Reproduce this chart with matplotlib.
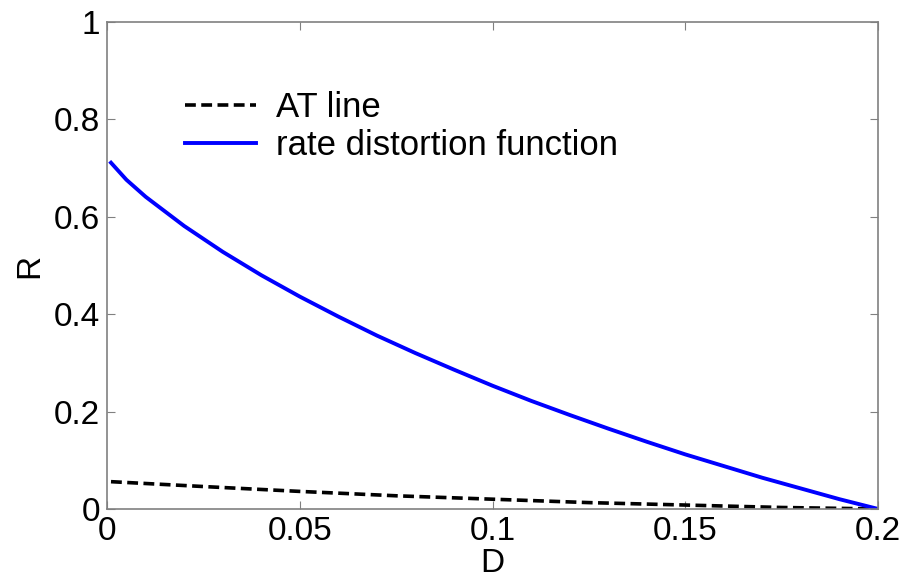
import matplotlib
matplotlib.use("Agg")
import matplotlib.pyplot as plt

# Data
D_rd = [0.001, 0.005, 0.01, 0.02, 0.03, 0.04, 0.05, 0.06, 0.07, 0.08, 0.09, 0.10,
        0.11, 0.12, 0.13, 0.14, 0.15, 0.16, 0.17, 0.18, 0.19, 0.20]
R_rd = [0.711, 0.676, 0.641, 0.581, 0.528, 0.480, 0.436, 0.395, 0.356, 0.320, 0.286, 0.253,
        0.222, 0.193, 0.165, 0.138, 0.112, 0.088, 0.064, 0.042, 0.020, 0.0]

D_at = [0.001, 0.025, 0.05, 0.075, 0.10, 0.125, 0.15, 0.175, 0.20]
R_at = [0.056, 0.046, 0.036, 0.027, 0.020, 0.013, 0.008, 0.003, 0.0]

xticks = [0, 0.05, 0.1, 0.15, 0.2]
xticklabels = ["0", "0.05", "0.1", "0.15", "0.2"]
yticks = [0, 0.2, 0.4, 0.6, 0.8, 1]
yticklabels = ["0", "0.2", "0.4", "0.6", "0.8", "1"]

plt.rcParams['font.family'] = ['Liberation Sans', 'DejaVu Sans']

fig = plt.figure(figsize=(9.08, 5.79), dpi=100)
ax = fig.add_axes([0.118, 0.121, 0.849, 0.841])

ax.plot(D_at, R_at, color='black', lw=2.6, linestyle=(0, (3.0, 1.5)), label='AT line')
ax.plot(D_rd, R_rd, color='#0000ff', lw=2.8, label='rate distortion function')

ax.set_xlim(0, 0.2)
ax.set_ylim(0, 1)
ax.set_xticks(xticks)
ax.set_xticklabels(xticklabels)
ax.set_yticks(yticks)
ax.set_yticklabels(yticklabels)
ax.tick_params(direction='in', top=True, right=True, labelsize=24, length=6,
               color='#808080', pad=5)
for s in ax.spines.values():
    s.set_color('#808080')
    s.set_linewidth(1.2)

ax.set_xlabel('D', fontsize=24, labelpad=1)
ax.set_ylabel('R', fontsize=24, labelpad=6)

leg = ax.legend(loc='upper left', bbox_to_anchor=(0.101, 0.859), frameon=False,
                fontsize=25, handlelength=2.05, handletextpad=0.58, labelspacing=0.15,
                borderpad=0, borderaxespad=0)

fig.savefig('out.png', dpi=100)
